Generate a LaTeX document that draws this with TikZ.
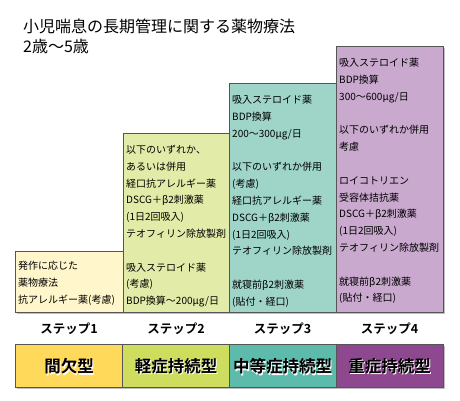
\documentclass[tikz,border=0pt]{standalone}
\usepackage{fontspec}
\setmainfont{Noto Sans CJK JP}[BoldFont={Noto Sans CJK JP Bold}]
\usetikzlibrary{positioning}

\definecolor{boxone}{HTML}{FFF6CC}
\definecolor{boxtwo}{HTML}{E2EBA8}
\definecolor{boxthree}{HTML}{9FD5C9}
\definecolor{boxfour}{HTML}{C9A9CE}
\definecolor{barone}{HTML}{FFD95A}
\definecolor{bartwo}{HTML}{CFDD5E}
\definecolor{barthree}{HTML}{5CBBAA}
\definecolor{barfour}{HTML}{8E4890}
\definecolor{edge}{HTML}{555555}

\tikzset{
  stepbox/.style={draw=edge, line width=0.8pt},
  shade/.style={fill=black!25},
  drug/.style={anchor=north west, inner sep=0pt, align=left,
    font=\fontsize{10}{16.8}\selectfont},
  steplabel/.style={font=\bfseries\fontsize{12.5}{14}\selectfont},
  type/.style={font=\bfseries\fontsize{16.5}{18}\selectfont},
}

\begin{document}
\begin{tikzpicture}[x=1pt, y=-1pt]
    \useasboundingbox (0, 0) rectangle (460, 400);
    % title
    \node[anchor=west, inner sep=0pt, font=\fontsize{16}{20}\selectfont] (title) at (23, 26) {小児喘息の長期管理に関する薬物療法};
    \node[anchor=west, inner sep=0pt, font=\fontsize{16}{20}\selectfont] (age) at (23, 46) {2歳～5歳};

    % step boxes
    \fill[shade] (16.5, 252.5) rectangle (124.5, 314);
    \draw[stepbox, fill=boxone] (15, 251) rectangle (123, 312);
    \fill[shade] (124.5, 134.5) rectangle (231, 314);
    \draw[stepbox, fill=boxtwo] (123, 133) rectangle (229, 312);
    \fill[shade] (230.5, 84.5) rectangle (338, 314);
    \draw[stepbox, fill=boxthree] (229, 83) rectangle (336, 312);
    \fill[shade] (337.5, 47.5) rectangle (444.5, 314);
    \draw[stepbox, fill=boxfour] (336, 46) rectangle (443, 312);

    \node[drug] (drugone) at (18, 261) {発作に応じた\\薬物療法\\抗アレルギー薬(考慮)};
    \node[drug] (drugtwo) at (126, 145) {以下のいずれか、\\あるいは併用\\経口抗アレルギー薬\\DSCG＋β2刺激薬\\(1日2回吸入)\\テオフィリン除放製剤\\[16.8pt]吸入ステロイド薬\\(考慮)\\BDP換算～200μg/日};
    \node[drug] (drugthree) at (232, 95) {吸入ステロイド薬\\BDP換算\\200～300μg/日\\[16.8pt]以下のいずれか併用\\(考慮)\\経口抗アレルギー薬\\DSCG＋β2刺激薬\\(1日2回吸入)\\テオフィリン除放製剤\\[16.8pt]就寝前β2刺激薬\\(貼付・経口)};
    \node[drug] (drugfour) at (339, 58) {吸入ステロイド薬\\BDP換算\\300～600μg/日\\[16.8pt]以下のいずれか併用\\考慮\\[16.8pt]ロイコトリエン\\受容体拮抗薬\\DSCG＋β2刺激薬\\(1日2回吸入)\\テオフィリン除放製剤\\[16.8pt]就寝前β2刺激薬\\(貼付・経口)};

    % step labels
    \foreach \n/\x in {1/69, 2/176, 3/282.5, 4/389.5}
      \node[steplabel] (step\n) at (\x, 329) {ステップ\n};

    % severity bar
    \fill[shade] (16.5, 345.5) rectangle (444.5, 389);
    \draw[stepbox, fill=barone] (15, 344) rectangle (122, 387);
    \draw[stepbox, fill=bartwo] (122, 344) rectangle (229, 387);
    \draw[stepbox, fill=barthree] (229, 344) rectangle (336, 387);
    \draw[stepbox, fill=barfour] (336, 344) rectangle (443, 387);
    \foreach \n/\x/\t in {1/69/間欠型, 2/176/軽症持続型, 3/282.5/中等症持続型, 4/389.5/重症持続型} {
      \node[type, white] (glow\n) at (\x+1.2, 366.5+1.2) {\t};
      \node[type] (type\n) at (\x, 366.5) {\t};
    }
  \end{tikzpicture}
\end{document}
